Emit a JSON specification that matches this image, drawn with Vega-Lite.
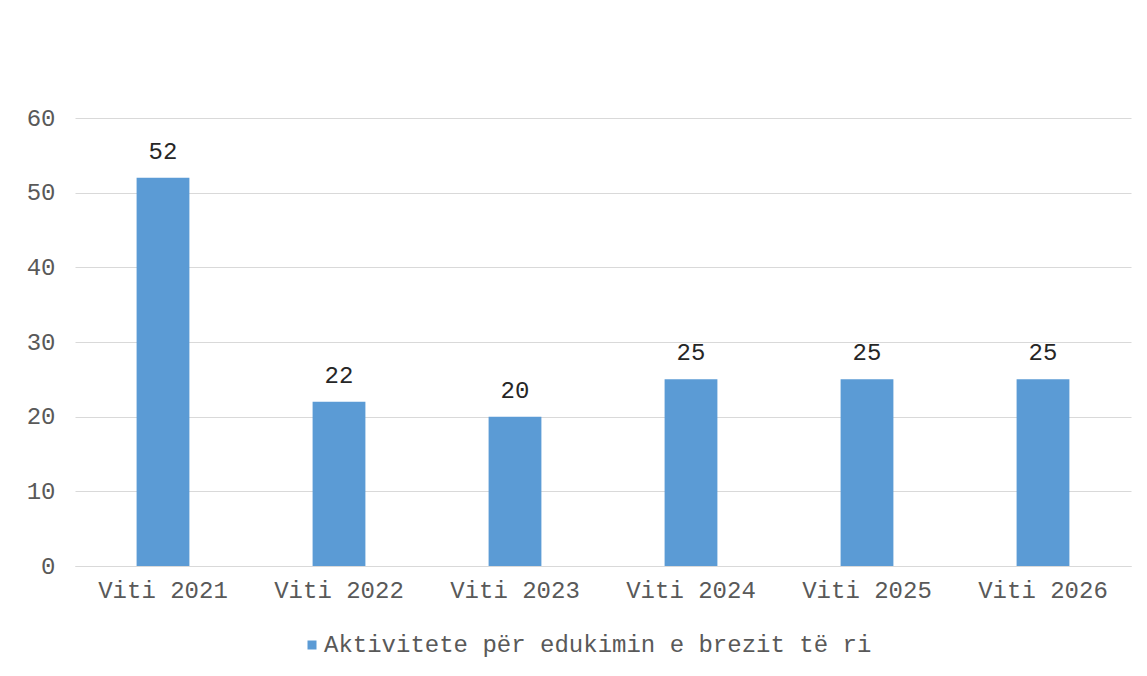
{
  "$schema": "https://vega.github.io/schema/vega-lite/v6.json",
  "autosize": "none",
  "width": 1056,
  "height": 448,
  "padding": {"left": 75, "top": 118, "right": 16, "bottom": 110},
  "background": "white",
  "config": {
    "view": {"stroke": null},
    "font": "Liberation Mono"
  },
  "data": {
    "values": [
      {"year": "Viti 2021", "value": 52, "series": "Aktivitete për edukimin e brezit të ri"},
      {"year": "Viti 2022", "value": 22, "series": "Aktivitete për edukimin e brezit të ri"},
      {"year": "Viti 2023", "value": 20, "series": "Aktivitete për edukimin e brezit të ri"},
      {"year": "Viti 2024", "value": 25, "series": "Aktivitete për edukimin e brezit të ri"},
      {"year": "Viti 2025", "value": 25, "series": "Aktivitete për edukimin e brezit të ri"},
      {"year": "Viti 2026", "value": 25, "series": "Aktivitete për edukimin e brezit të ri"}
    ]
  },
  "encoding": {
    "x": {
      "field": "year", "type": "nominal", "sort": null,
      "scale": {"paddingInner": 0.7, "paddingOuter": 0.35},
      "axis": {
        "title": null, "labelAngle": 0, "ticks": false,
        "domainColor": "#d9d9d9", "domainWidth": 1,
        "labelFont": "Liberation Mono", "labelFontSize": 24, "labelColor": "#595959",
        "labelPadding": 12
      }
    },
    "y": {
      "field": "value", "type": "quantitative",
      "scale": {"domain": [0, 60], "nice": false},
      "axis": {
        "title": null, "values": [0, 10, 20, 30, 40, 50, 60],
        "domain": false, "ticks": false,
        "gridColor": "#d9d9d9", "gridWidth": 1,
        "labelFont": "Liberation Mono", "labelFontSize": 24, "labelColor": "#595959",
        "labelPadding": 20
      }
    }
  },
  "layer": [
    {
      "mark": {"type": "bar", "color": "#5b9bd5"},
      "encoding": {
        "color": {
          "field": "series", "type": "nominal",
          "scale": {"range": ["#5b9bd5"]},
          "legend": {
            "title": null, "orient": "none", "legendX": 225, "legendY": 515,
            "symbolType": "square", "symbolSize": 81, "symbolStrokeWidth": 0,
            "labelFont": "Liberation Mono", "labelFontSize": 24, "labelColor": "#595959",
            "labelOffset": 0, "labelLimit": 0
          }
        }
      }
    },
    {
      "mark": {"type": "text", "baseline": "alphabetic", "dy": -19, "font": "Liberation Mono", "fontSize": 24, "color": "#262626"},
      "encoding": {"text": {"field": "value", "type": "quantitative"}}
    }
  ]
}
